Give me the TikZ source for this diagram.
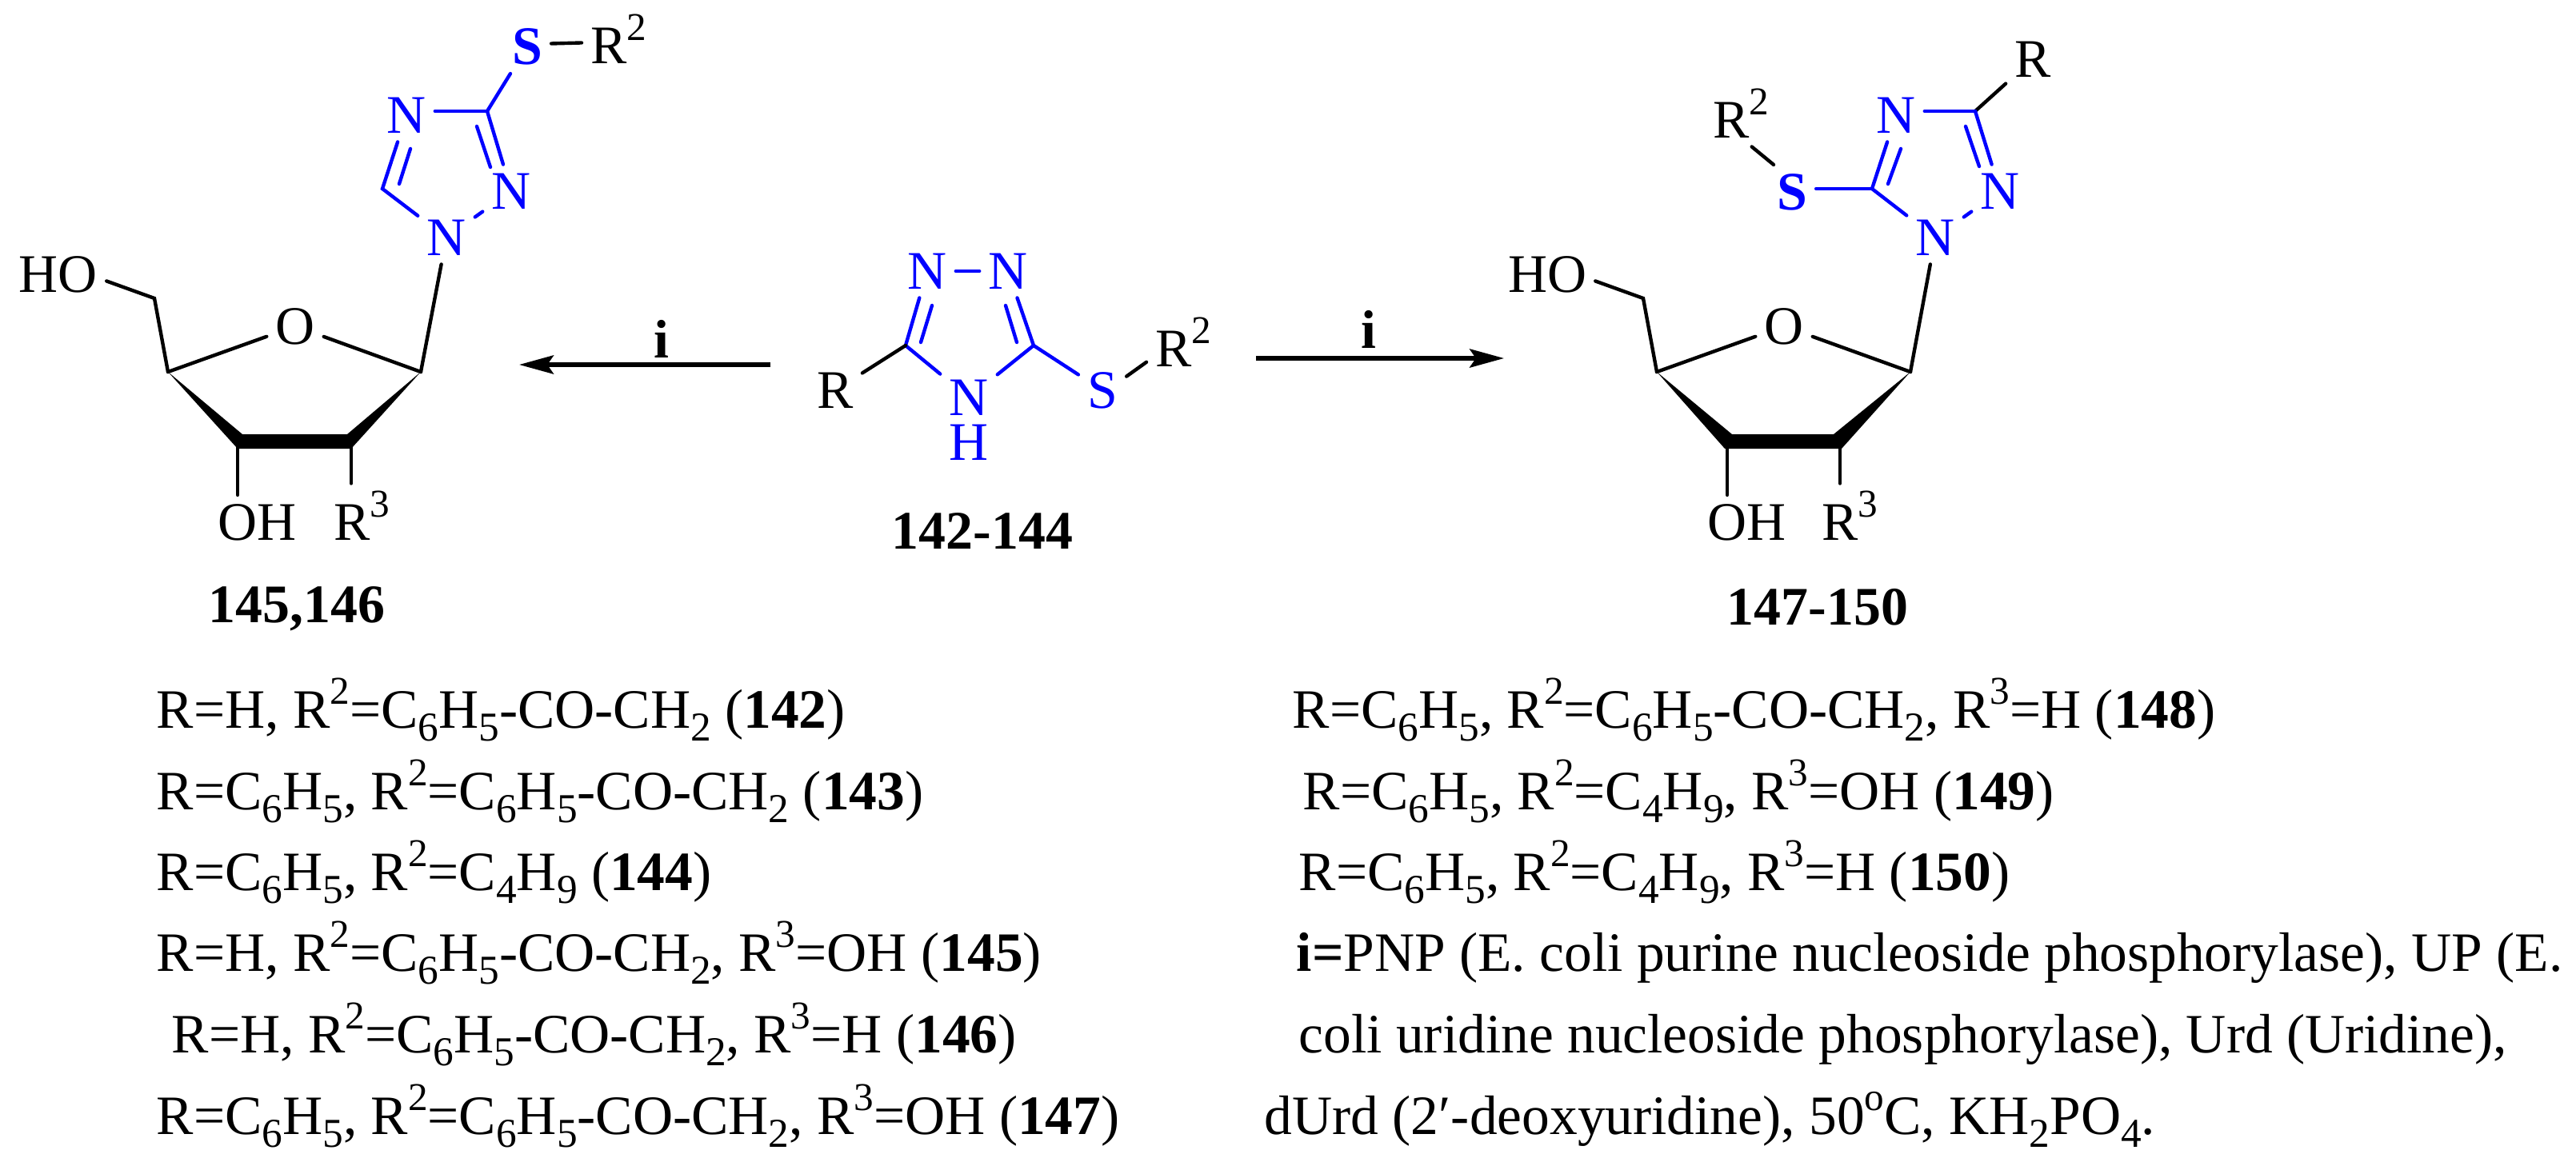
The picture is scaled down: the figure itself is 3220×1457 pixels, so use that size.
\documentclass[tikz,border=0pt]{standalone}
\usepackage{fontspec}
\setmainfont{Liberation Serif}
\usetikzlibrary{positioning,arrows.meta}
\newcommand{\rsup}[1]{\raisebox{8.3pt}[0pt][0pt]{\fontsize{14}{14}\selectfont #1}}
\newcommand{\rsub}[1]{\raisebox{-4.6pt}[0pt][0pt]{\fontsize{14.6}{15}\selectfont #1}}
\newcommand{\lbl}[1]{\textbf{#1}}
\begin{document}
\begin{tikzpicture}[x=0.01cm,y=-0.01cm,font=\fontsize{19.3}{22}\selectfont,
  atom/.style={inner sep=3pt,text=black},
  hetero/.style={inner sep=3pt,text=blue},
  bond/.style={line width=1.25pt,line cap=round,black},
  ring/.style={line width=1.25pt,line cap=round,blue},
  txt/.style={inner sep=0pt,anchor=base west,font=\fontsize{19.75}{22}\selectfont},
  rxn/.style={line width=1.5pt,-{Stealth[length=12.2pt,width=6.6pt,inset=2.2pt]}}]
  \useasboundingbox (0,0) rectangle (3220,1457);
  \node[hetero,font=\fontsize{19.3}{22}\selectfont\bfseries] (sa) at (659,58) {S};
  \node[atom,anchor=west] (ra) at (727,57) {R\rsup{2}};
  \coordinate (c3a) at (609,139);
  \node[hetero] (n4a) at (508,144) {N};
  \coordinate (c5a) at (478,236);
  \node[hetero] (n1a) at (558,297) {N};
  \node[hetero] (n2a) at (639,239) {N};
  \coordinate (c3ai) at (596,158);
  \coordinate (n2ai) at (613,209);
  \coordinate (n4ai) at (513,186);
  \coordinate (c5ai) at (499,230);
  \draw[ring] (c3a) -- (sa);
  \draw[ring] (c3a) -- (c3a -| n4a.east);
  \draw[ring] (c3a) -- (n2a);
  \draw[ring] (c3ai) -- (n2ai);
  \draw[ring] (n4a) -- (c5a) -- (n1a);
  \draw[ring] (n4ai) -- (c5ai);
  \draw[ring] (n1a) -- (n2a);
  \draw[bond] ([yshift=1pt]sa.east) -- ([yshift=1pt]ra.west);
  \node[atom] (oa) at (369,408) {O};
  \node[atom] (hoa) at (73,343) {HO};
  \node[atom] (oha) at (322,653) {OH};
  \node[atom] (rta) at (452,653) {R\rsup{3}};
  \coordinate (c1a) at (526,465);
  \coordinate (c2a) at (439,551);
  \coordinate (c3sa) at (297,551);
  \coordinate (c4a) at (210,465);
  \coordinate (c5sa) at (193,373);
  \draw[bond] (c1a) -- (n1a);
  \draw[bond] (c1a) -- (oa);
  \draw[bond] (c4a) -- (oa);
  \draw[bond] (c4a) -- (c5sa) -- (hoa.-8);
  \fill (c4a) -- (303,543) -- (434,543) -- (c1a) -- (439,561) -- (297,561) -- cycle;
  \draw[bond] (c3sa) -- (c3sa |- oha.north);
  \draw[bond,shorten >=4.3pt] (c2a) -- (c2a |- rta.north);
  \node[atom,anchor=base] (la) at (371,778) {\lbl{145,146}};
  \node[hetero] (nl) at (1159,339) {N};
  \node[hetero] (nr) at (1260,339) {N};
  \node[hetero] (nb) at (1211,497) {N};
  \node[hetero,below=-3pt of nb] (hb) {H};
  \node[hetero] (sb) at (1378,488) {S};
  \node[atom] (rb) at (1044,488) {R};
  \node[atom,anchor=west] (rsb) at (1433,436) {R\rsup{2}};
  \coordinate (cl) at (1132,432);
  \coordinate (cr) at (1292,432);
  \coordinate (nli) at (1165,382);
  \coordinate (cli) at (1151,428);
  \coordinate (nri) at (1257,382);
  \coordinate (cri) at (1271,428);
  \draw[ring] (nl) -- (nr);
  \draw[ring] (nl) -- (cl) -- (nb) -- (cr) -- (nr);
  \draw[ring] (nli) -- (cli);
  \draw[ring] (nri) -- (cri);
  \draw[ring] (cr) -- (sb);
  \draw[bond] (cl) -- (rb);
  \draw[bond] (sb.30) -- (rsb.200);
  \node[atom,anchor=base] (lb) at (1228,686) {\lbl{142-144}};
  \coordinate (ala) at (963,456);
  \coordinate (alb) at (649,456);
  \coordinate (ara) at (1570,448);
  \coordinate (arb) at (1880,448);
  \draw[rxn] (ala) -- (alb);
  \draw[rxn] (ara) -- (arb);
  \node[atom,anchor=base] (il) at (827,447) {\lbl{i}};
  \node[atom,anchor=base] (ir) at (1711,435) {\lbl{i}};
  \node[atom] (rc) at (2541,74) {R};
  \node[hetero] (n4c) at (2370,144) {N};
  \node[hetero] (n1c) at (2419,297) {N};
  \node[hetero] (n2c) at (2500,239) {N};
  \node[hetero,font=\fontsize{19.3}{22}\selectfont\bfseries] (sc) at (2240,240) {S};
  \node[atom,anchor=west] (rsc) at (2130,150) {R\rsup{2}};
  \coordinate (c3c) at (2469,139);
  \coordinate (c5c) at (2340,236);
  \coordinate (c3ci) at (2457,158);
  \coordinate (n2ci) at (2474,208);
  \coordinate (n4ci) at (2376,186);
  \coordinate (c5ci) at (2360,230);
  \draw[bond] (c3c) -- (rc);
  \draw[ring] (c3c) -- (c3c -| n4c.east);
  \draw[ring] (c3c) -- (n2c);
  \draw[ring] (c3ci) -- (n2ci);
  \draw[ring] (n4c) -- (c5c) -- (n1c);
  \draw[ring] (n4ci) -- (c5ci);
  \draw[ring] (n1c) -- (n2c);
  \draw[ring] (c5c) -- (c5c -| sc.east);
  \draw[bond] (sc.124) -- (rsc.292);
  \node[atom] (oc) at (2230,408) {O};
  \node[atom] (hoc) at (1934,343) {HO};
  \node[atom] (ohc) at (2183,653) {OH};
  \node[atom] (rtc) at (2312,653) {R\rsup{3}};
  \coordinate (c1c) at (2388,465);
  \coordinate (c2c) at (2300,551);
  \coordinate (c3sc) at (2159,551);
  \coordinate (c4c) at (2071,465);
  \coordinate (c5sc) at (2054,373);
  \draw[bond] (c1c) -- (n1c);
  \draw[bond] (c1c) -- (oc);
  \draw[bond] (c4c) -- (oc);
  \draw[bond] (c4c) -- (c5sc) -- (hoc.-8);
  \fill (c4c) -- (2165,543) -- (2292,543) -- (c1c) -- (2302,561) -- (2156,561) -- cycle;
  \draw[bond] (c3sc) -- (c3sc |- ohc.north);
  \draw[bond,shorten >=4.3pt] (c2c) -- (c2c |- rtc.north);
  \node[atom,anchor=base] (lc) at (2272,781) {\lbl{147-150}};
  \node[txt] (t1) at (195,910) {R=H, R\rsup{2}=C\rsub{6}H\rsub{5}-CO-CH\rsub{2} (\lbl{142})};
  \node[txt] (t2) at (195,1012) {R=C\rsub{6}H\rsub{5}, R\rsup{2}=C\rsub{6}H\rsub{5}-CO-CH\rsub{2} (\lbl{143})};
  \node[txt] (t3) at (195,1113) {R=C\rsub{6}H\rsub{5}, R\rsup{2}=C\rsub{4}H\rsub{9} (\lbl{144})};
  \node[txt] (t4) at (195,1214) {R=H, R\rsup{2}=C\rsub{6}H\rsub{5}-CO-CH\rsub{2}, R\rsup{3}=OH (\lbl{145})};
  \node[txt] (t5) at (214,1316) {R=H, R\rsup{2}=C\rsub{6}H\rsub{5}-CO-CH\rsub{2}, R\rsup{3}=H (\lbl{146})};
  \node[txt] (t6) at (195,1418) {R=C\rsub{6}H\rsub{5}, R\rsup{2}=C\rsub{6}H\rsub{5}-CO-CH\rsub{2}, R\rsup{3}=OH (\lbl{147})};
  \node[txt] (u1) at (1615,910) {R=C\rsub{6}H\rsub{5}, R\rsup{2}=C\rsub{6}H\rsub{5}-CO-CH\rsub{2}, R\rsup{3}=H (\lbl{148})};
  \node[txt] (u2) at (1628,1012) {R=C\rsub{6}H\rsub{5}, R\rsup{2}=C\rsub{4}H\rsub{9}, R\rsup{3}=OH (\lbl{149})};
  \node[txt] (u3) at (1623,1113) {R=C\rsub{6}H\rsub{5}, R\rsup{2}=C\rsub{4}H\rsub{9}, R\rsup{3}=H (\lbl{150})};
  \node[txt] (u4) at (1620,1214) {\lbl{i=}PNP (E. coli purine nucleoside phosphorylase), UP (E.};
  \node[txt] (u5) at (1623,1316) {coli uridine nucleoside phosphorylase), Urd (Uridine),};
  \node[txt] (u6) at (1580,1418) {dUrd (2′-deoxyuridine), 50\rsup{o}C, KH\rsub{2}PO\rsub{4}.};
\end{tikzpicture}
\end{document}
